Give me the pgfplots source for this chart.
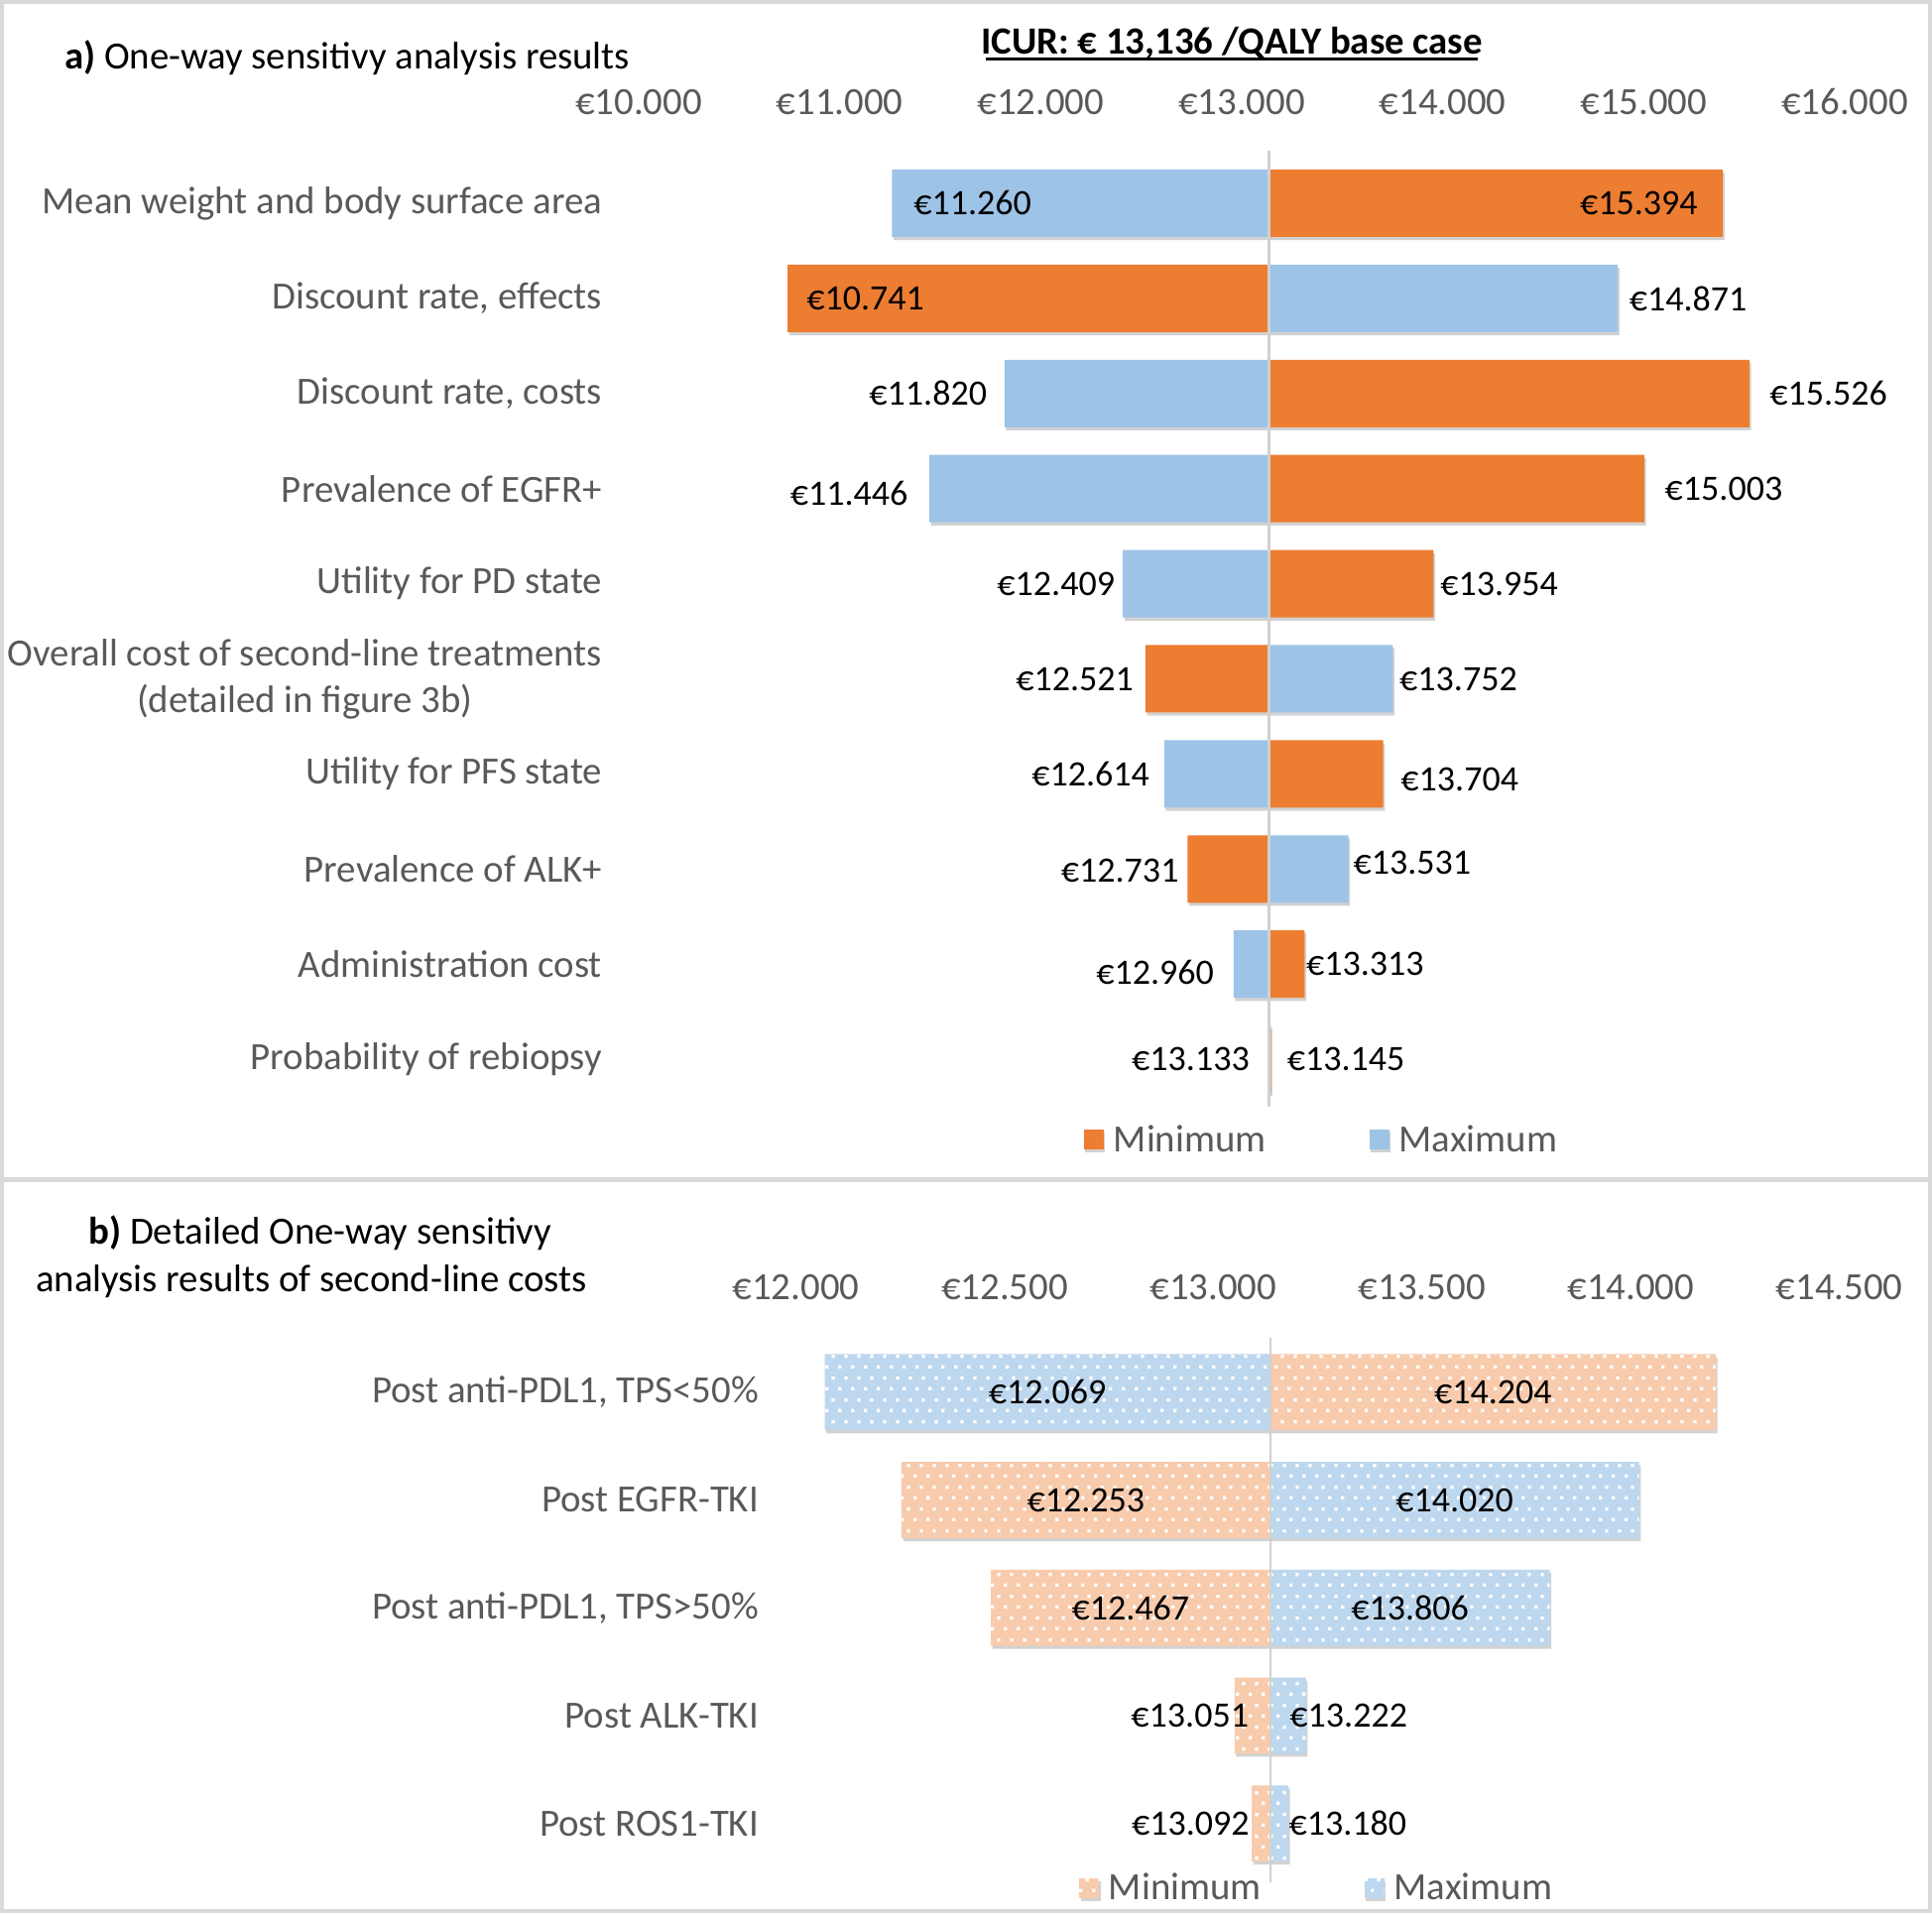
\documentclass[border=0pt]{standalone}
\usepackage{fontspec}
\setmainfont{Carlito}
\usepackage{pgfplots}
\pgfplotsset{compat=1.18}
\usetikzlibrary{patterns,patterns.meta,shadows}
\definecolor{orA}{HTML}{ED7D31}
\definecolor{blA}{HTML}{9DC3E6}
\definecolor{orB}{HTML}{F8CBAD}
\definecolor{blB}{HTML}{BDD7EE}
\definecolor{txt}{HTML}{595959}
\newcommand{\fs}{\fontsize{19.4}{23.6}\selectfont}
\newcommand{\vs}{\fontsize{18}{22}\selectfont}
\pgfdeclarepattern{
  name=bigdots,
  type=uncolored,
  bottom left={\pgfpoint{0pt}{0pt}},
  top right={\pgfpoint{6.4pt}{11pt}},
  tile size={\pgfpoint{6.4pt}{11pt}},
  code={
    \pgfpathrectangle{\pgfpoint{0pt}{0pt}}{\pgfpoint{1.7pt}{1.7pt}}
    \pgfpathrectangle{\pgfpoint{3.2pt}{5.5pt}}{\pgfpoint{1.7pt}{1.7pt}}
    \pgfusepath{fill}
  }
}
\pgfplotsset{
  sqlegend/.style={legend image code/.code={\fill[##1,draw=none] (0pt,-5pt) rectangle (10pt,5pt);}},
  shad/.style={drop shadow={shadow xshift=0.8pt, shadow yshift=-1.6pt, opacity=0.35}},
}
\begin{document}
\begin{tikzpicture}
\useasboundingbox (0,0) rectangle (974pt,-964.5pt);
\fill[white] (0,0) rectangle (974pt,-964.5pt);
\draw[black!15, line width=2pt] (1pt,-1pt) rectangle (973pt,-963.5pt);
\draw[black!15, line width=2.5pt] (0,-594.5pt) -- (974pt,-594.5pt);
% titles
\node[anchor=base west, inner sep=0pt, font=\fs] at (32.3pt,-34.8pt) {\textbf{a)} One-way sensitivy analysis results};
\node[anchor=base, inner sep=0pt, font=\fs] at (621pt,-27.3pt) {\textbf{ICUR: € 13,136 /QALY base case}};
\draw[line width=1.5pt] (497pt,-29.8pt) -- (745pt,-29.8pt);
\node[align=center, inner sep=0pt, font=\fs] at (157pt,-633.6pt) {\ \ \textbf{b)} Detailed One-way sensitivy\\analysis results of second-line costs};

% ---------------- panel a
\begin{axis}[
  at={(322pt,-78.5pt)}, anchor=north west,
  scale only axis, width=608pt, height=479.5pt,
  xmin=10000, xmax=16000, ymin=0.5, ymax=10.5, y dir=reverse,
  x coord trafo/.code={\pgfmathparse{#1-13136}},
  x coord inv trafo/.code={\pgfmathparse{#1+13136}},
  axis x line*=top, axis y line*=left,
  axis line style={draw=none},
  major tick length=0pt,
  xtick={10000,11000,12000,13000,14000,15000,16000},
  xticklabels={€10.000,€11.000,€12.000,€13.000,€14.000,€15.000,€16.000},
  xticklabel style={font=\fs, text=txt, anchor=base, yshift=21pt},
  ytick={1,2,3,4,5,6,7,8,9,10},
  yticklabels={Mean weight and body surface area, {Discount rate, effects}, {Discount rate, costs}, Prevalence of EGFR+, Utility for PD state, {Overall cost of second-line treatments\\(detailed in figure 3b)}, Utility for PFS state, Prevalence of ALK+, Administration cost, Probability of rebiopsy},
  yticklabel style={font=\fs, text=txt, align=center, anchor=east, inner sep=0pt, xshift=-18.3pt},
  clip=false,
  legend style={at={(0.567,-0.0346)}, anchor=center, draw=none, fill=none, legend columns=2, font=\fs, text=txt, /tikz/every even column/.append style={column sep=50pt}, /tikz/every odd column/.append style={column sep=3pt}, cells={anchor=west}},
]
\addplot[xbar, bar width=34pt, bar shift=0pt, fill=orA, draw=none, shad, sqlegend]
 coordinates {(15394,1) (10741,2) (15526,3) (15003,4) (13954,5) (12521,6) (13704,7) (12731,8) (13313,9) (13145,10)};
\addlegendentry{Minimum}
\addplot[xbar, bar width=34pt, bar shift=0pt, fill=blA, draw=none, shad, sqlegend]
 coordinates {(11260,1) (14871,2) (11820,3) (11446,4) (12409,5) (13752,6) (12614,7) (13531,8) (12960,9) (13133,10)};
\addlegendentry{Maximum}
\draw[black!18, line width=1.1pt] (axis cs:13136,0.45) -- (axis cs:13136,10.5);
\begin{scope}[every node/.style={font=\vs, inner sep=0pt, text=black}]
\node[anchor=west] at (axis cs:11260,1) [xshift=10.8pt] {€11.260};
\node[anchor=east] at (axis cs:15394,1) [xshift=-12.6pt] {€15.394};
\node[anchor=west] at (axis cs:10741,2) [xshift=9.4pt] {€10.741};
\node[anchor=west] at (axis cs:14871,2) [xshift=5.6pt] {€14.871};
\node[anchor=east] at (axis cs:11820,3) [xshift=-8.7pt] {€11.820};
\node[anchor=west] at (axis cs:15526,3) [xshift=10pt] {€15.526};
\node[anchor=east] at (axis cs:11446,4) [xshift=-10.6pt, yshift=-2.5pt] {€11.446};
\node[anchor=west] at (axis cs:15003,4) [xshift=10.2pt] {€15.003};
\node[anchor=east] at (axis cs:12409,5) [xshift=-3.9pt] {€12.409};
\node[anchor=west] at (axis cs:13954,5) [xshift=3.3pt] {€13.954};
\node[anchor=east] at (axis cs:12521,6) [xshift=-5.8pt] {€12.521};
\node[anchor=west] at (axis cs:13752,6) [xshift=3.2pt] {€13.752};
\node[anchor=east] at (axis cs:12614,7) [xshift=-7.2pt] {€12.614};
\node[anchor=west] at (axis cs:13704,7) [xshift=8.7pt, yshift=-3pt] {€13.704};
\node[anchor=east] at (axis cs:12731,8) [xshift=-4.3pt, yshift=-0.6pt] {€12.731};
\node[anchor=west] at (axis cs:13531,8) [xshift=2.3pt, yshift=3pt] {€13.531};
\node[anchor=east] at (axis cs:12960,9) [xshift=-9.8pt, yshift=-4.3pt] {€12.960};
\node[anchor=west] at (axis cs:13313,9) [xshift=0.6pt] {€13.313};
\node[anchor=east] at (axis cs:13133,10) [xshift=-9.4pt] {€13.133};
\node[anchor=west] at (axis cs:13145,10) [xshift=8pt] {€13.145};
\end{scope}
\end{axis}

% ---------------- panel b
\begin{axis}[
  at={(401.25pt,-674.7pt)}, anchor=north west,
  scale only axis, width=526.1pt, height=271.8pt,
  xmin=12000, xmax=14500, ymin=0.5, ymax=5.5, y dir=reverse,
  x coord trafo/.code={\pgfmathparse{#1-13136}},
  x coord inv trafo/.code={\pgfmathparse{#1+13136}},
  axis x line*=top, axis y line*=left,
  axis line style={draw=none},
  major tick length=0pt,
  xtick={12000,12500,13000,13500,14000,14500},
  xticklabels={€12.000,€12.500,€13.000,€13.500,€14.000,€14.500},
  xticklabel style={font=\fs, text=txt, anchor=base, yshift=19.7pt},
  ytick={1,2,3,4,5},
  yticklabels={{Post anti-PDL1, TPS<50\%}, Post EGFR-TKI, {Post anti-PDL1, TPS>50\%}, Post ALK-TKI, Post ROS1-TKI},
  yticklabel style={font=\fs, text=txt, anchor=east, inner sep=0pt, xshift=-18.6pt},
  clip=false,
  legend style={at={(0.50,-0.020)}, anchor=center, draw=none, fill=none, legend columns=2, font=\fs, text=txt, /tikz/every even column/.append style={column sep=50pt}, /tikz/every odd column/.append style={column sep=3pt}, cells={anchor=west}},
]
\addplot[xbar, bar width=38.3pt, bar shift=0pt, fill=orB, draw=none, shad, postaction={pattern=bigdots, pattern color=white}, sqlegend]
 coordinates {(14204,1) (12253,2) (12467,3) (13051,4) (13092,5)};
\addlegendentry{Minimum}
\addplot[xbar, bar width=38.3pt, bar shift=0pt, fill=blB, draw=none, shad, postaction={pattern=bigdots, pattern color=white}, sqlegend]
 coordinates {(12069,1) (14020,2) (13806,3) (13222,4) (13180,5)};
\addlegendentry{Maximum}
\draw[black!18, line width=1.1pt] (axis cs:13136,0.5) -- (axis cs:13136,5.55);
\begin{scope}[every node/.style={font=\vs, inner sep=0pt, text=black}]
\node at (axis cs:12602.5,1) {€12.069};
\node at (axis cs:13670,1) {€14.204};
\node at (axis cs:12694.5,2) {€12.253};
\node at (axis cs:13578,2) {€14.020};
\node at (axis cs:12801.5,3) {€12.467};
\node at (axis cs:13471,3) {€13.806};
\node[anchor=east] at (axis cs:13051,4) [xshift=7.3pt] {€13.051};
\node[anchor=west] at (axis cs:13222,4) [xshift=-8.4pt] {€13.222};
\node[anchor=east] at (axis cs:13092,5) [xshift=-1pt] {€13.092};
\node[anchor=west] at (axis cs:13180,5) [xshift=0pt] {€13.180};
\end{scope}
\end{axis}
\end{tikzpicture}
\end{document}
